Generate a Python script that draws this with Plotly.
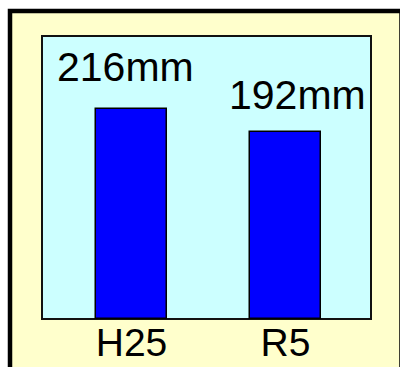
import plotly.graph_objects as go

# Annual totals
categories = ["H25", "R5"]
values = [216, 192]
value_labels = [f"{v}mm" for v in values]

W, H = 400, 367
L, R, T, B = 42, 29, 36, 48
pw, ph = W - L - R, H - T - B


def px_x(x):
    return (x - L) / pw


def px_y(y):
    return (H - B - y) / ph


FONT = "Liberation Sans, Arial, sans-serif"

fig = go.Figure(
    go.Bar(
        x=[0, 1],
        y=values,
        width=0.461,
        marker=dict(color="#0000FF", line=dict(color="#000000", width=1.5)),
        hoverinfo="skip",
    )
)

# value labels above the bars
label_shift = [(-6, 27), (12, 22)]
for i, (txt, v) in enumerate(zip(value_labels, values)):
    dx, dy = label_shift[i]
    fig.add_annotation(
        x=i, y=v, text=txt, showarrow=False, xanchor="center", yanchor="bottom",
        xshift=dx, yshift=dy - 10,
        font=dict(family=FONT, size=41, color="#000000"),
    )

# outer frame and inner panel
fig.add_shape(type="rect", xref="paper", yref="paper", layer="below",
              x0=px_x(10), x1=px_x(401.5), y0=px_y(372), y1=px_y(11),
              fillcolor="#FFFFCC", line=dict(color="#000000", width=4.5))
fig.add_shape(type="rect", xref="paper", yref="paper", layer="below",
              x0=0, x1=1, y0=0, y1=1,
              fillcolor="#CCFFFF", line=dict(color="#111111", width=2))

fig.update_layout(
    width=W, height=H,
    margin=dict(l=L, r=R, t=T, b=B, pad=0, autoexpand=False),
    paper_bgcolor="#FFFFFF",
    plot_bgcolor="rgba(0,0,0,0)",
    showlegend=False,
    bargap=0,
    xaxis=dict(
        range=[-0.5815, 1.556], tickmode="array", tickvals=[0, 1], ticktext=categories,
        showgrid=False, zeroline=False, showline=False, ticks="",
        ticklabelstandoff=-3,
        tickfont=dict(family=FONT, size=39, color="#000000"),
        automargin=False, fixedrange=True,
    ),
    yaxis=dict(range=[0, 291], visible=False, fixedrange=True, automargin=False),
)

fig.write_html("out.html")
